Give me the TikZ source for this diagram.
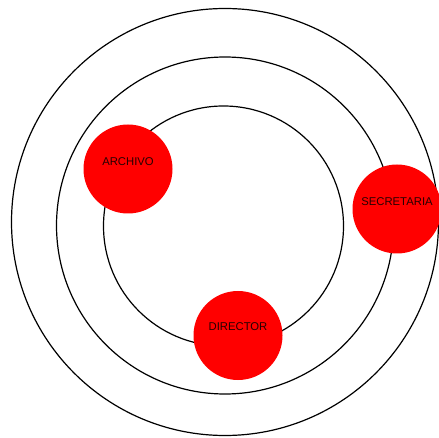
\documentclass[tikz,border=0pt]{standalone}
\usepackage{fontspec}
\setmainfont{Liberation Sans}
\begin{document}
\begin{tikzpicture}[x=1pt,y=-1pt,
  ring/.style={draw=black,line width=1.2pt,circle,inner sep=0pt},
  dept/.style={circle,fill=red,draw=none,minimum size=89pt,inner sep=0pt},
  lbl/.style={font=\fontsize{11.3}{13}\selectfont,text=black!85!red,inner sep=0pt}]
\useasboundingbox (0,0) rectangle (439,438);
\fill[white] (0,0) rectangle (439,438);
\node[ring,minimum size=427pt] (outer) at (225,222) {};
\node[ring,minimum size=337pt] (middle) at (225,225.5) {};
\node[ring,minimum size=240pt] (inner) at (223.5,226) {};
\node[dept] (archivo) at (128,169) {};
\node[dept] (secretaria) at (397,209) {};
\node[dept] (director) at (238,335.5) {};
\node[lbl] at ([yshift=7pt]archivo.center) {ARCHIVO};
\node[lbl] at ([yshift=7pt]secretaria.center) {SECRETARIA};
\node[lbl] at ([yshift=8.5pt]director.center) {DIRECTOR};
\end{tikzpicture}
\end{document}
